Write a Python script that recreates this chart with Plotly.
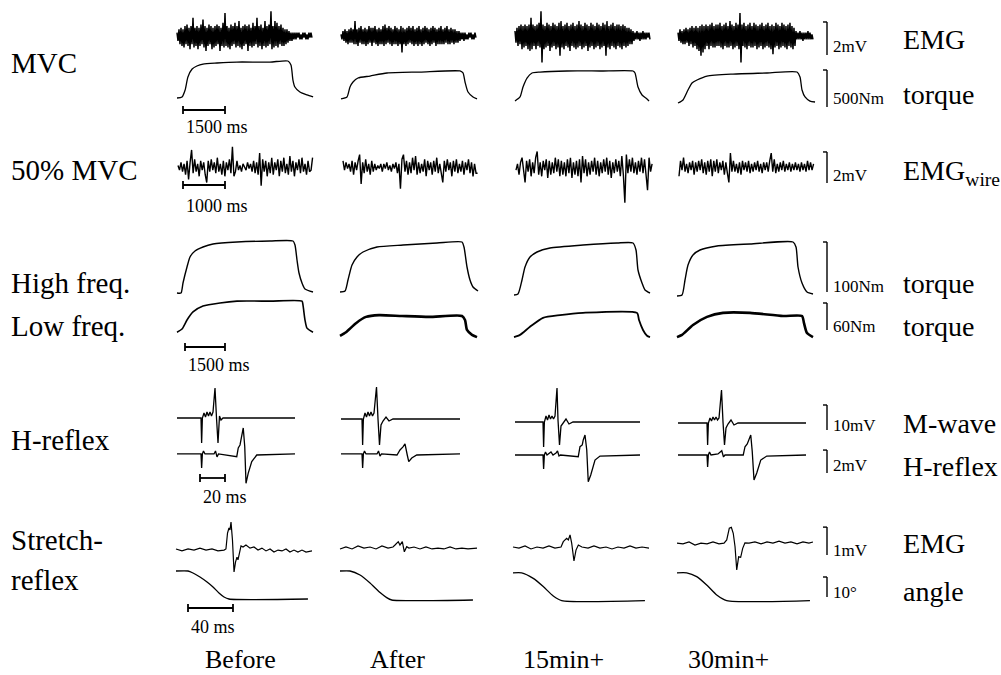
import numpy as np
import plotly.graph_objects as go

W, H = 1001, 675
FONT = "Liberation Serif, Times New Roman, serif"
COLS = ["Before", "After", "15min+", "30min+"]

# ------------------------------------------------------------------ DATA
# MVC surface EMG, units of 0.1 mV, one sample every MVC_EMG_DT ms
MVC_EMG_DT = 35.7
mvc_emg_before = [2,-3,4,-5,5,-6,4,-7,6,-5, 7,-6,5,-8,6,-5,11,-7,5,-6, 6,-8,5,-6,7,-5,10,-7,6,-9,
                  5,-6,7,-5,6,-8,5,-7,6,-6, 7,-5,6,-9,5,-6,8,-7,14,-6, 6,-7,5,-8,7,-6,6,-5,8,-7,
                  6,-6,9,-7,5,-8,6,-6,7,-5, 6,-9,7,-6,5,-7,8,-6,6,-5, 11,-7,6,-6,7,-8,5,-6,9,-7,
                  6,-6,7,-5,15,-8,6,-7,9,-6, 8,-7,6,-5,7,-6,5,-6,4,-5, 4,-4,3,-3,2,-3,2,-2,2,-2,
                  2,-1,2,-2,1,-2,2,-1,2,-2, 1,-2,2,-1,2,-1]
mvc_emg_after = [1,-2,3,-3,4,-4,3,-5,4,-4, 5,-4,4,-5,9,-5,4,-6,5,-4, 6,-5,4,-5,5,-6,4,-5,6,-4,
                 5,-6,5,-4,6,-5,4,-6,5,-5, 4,-5,6,-6,7,-5,5,-4,6,-5, 5,-6,4,-5,6,-5,5,-6,4,-5,
                 6,-10,5,-5,4,-6,5,-5,6,-4, 5,-5,6,-6,4,-5,5,-6,6,-5, 4,-6,5,-5,6,-4,5,-5,4,-6,
                 5,-5,6,-4,5,-6,4,-5,5,-5, 6,-5,4,-5,5,-4,6,-5,4,-5, 5,-4,4,-5,4,-4,3,-4,3,-3,
                 2,-2,2,-3,2,-2,1,-2,2,-1, 2,-2,1,-2,2,-1]
mvc_emg_15 = [3,-4,5,-6,6,-5,7,-8,6,-7, 7,-6,6,-8,7,-9,11,-8,7,-6, 6,-8,7,-6,8,-7,15,-16,7,-8,
              6,-7,8,-6,7,-9,6,-7,8,-6, 7,-8,6,-7,8,-12,9,-7,6,-8, 7,-6,8,-7,6,-9,7,-6,8,-7,
              6,-8,7,-7,9,-6,7,-8,6,-7, 8,-6,7,-9,6,-7,8,-6,7,-8, 6,-7,8,-6,7,-8,6,-7,8,-6,
              7,-12,9,-7,6,-8,7,-6,8,-7, 6,-8,7,-6,7,-7,6,-8,7,-6, 6,-7,5,-6,5,-5,4,-5,3,-3,
              2,-2,3,-2,2,-3,2,-2,3,-2, 2,-2,2,-1,2,-2]
mvc_emg_30 = [2,-3,4,-4,3,-5,4,-5,5,-4, 4,-6,5,-5,6,-7,5,-6,6,-8, 5,-9,6,-12,7,-10,6,-8,7,-6,
              6,-8,7,-6,8,-7,6,-7,7,-6, 7,-6,8,-7,6,-8,7,-6,8,-7, 6,-7,9,-6,7,-8,6,-7,8,-6,
              7,-8,14,-16,7,-6,8,-7,6,-8, 7,-6,8,-7,6,-7,8,-6,7,-8, 6,-7,7,-6,8,-8,6,-7,7,-6,
              8,-7,6,-8,7,-11,6,-7,8,-6, 7,-8,6,-7,8,-6,7,-7,6,-8, 7,-6,8,-7,6,-8,5,-6,3,-2,
              2,-2,3,-2,2,-3,2,-2,2,-2, 3,-2,2,-2,1,-2]

# MVC torque (ms, Nm)
mvc_t_before = [0,180,290,390,540,710,930,1430,2140,3320,3960,4070,4140,4210,4390,4640,4860]
mvc_nm_before = [27,41,135,311,419,459,486,500,513,513,527,473,270,176,108,68,41]
mvc_t_after = [0,214,321,429,607,1036,1643,2821,4250,4357,4429,4536,4714,4857]
mvc_nm_after = [14,41,176,243,297,324,365,378,392,365,243,108,41,14]
mvc_t_15 = [0,179,286,429,607,893,1857,3036,4214,4286,4393,4536,4714,4786]
mvc_nm_15 = [-14,41,176,297,365,378,392,392,392,365,176,68,14,-14]
mvc_t_30 = [0,179,357,500,679,1036,1964,3179,4250,4357,4429,4536,4714,4893]
mvc_nm_30 = [-41,0,135,230,270,324,351,365,378,311,135,41,-14,-27]

# 50% MVC intramuscular (wire) EMG, units of 0.1 mV, one sample every WIRE_DT ms
WIRE_DT = 36
wire_before = [1,-2,3,-3,2,-5,4,-8,3,11, -4,5,-3,2,-6,4,-2,3,-5,-10, 4,-3,5,-2,3,-4,6,-3,2,-5,
               4,-6,3,-2,5,-4,13,-6,-3,4, -2,1,-3,2,0,-2,3,-1,2,-3, 4,-4,3,-5,9,-12,5,-3,4,-6,
               3,-4,6,-5,3,-2,5,-6,4,-3, 6,-4,2,-5,7,-3,4,-6,3,-2, 5,-4,6,-3,2,-5,4,-3,-2,6]
wire_after = [4,-2,3,-1,2,-3,4,-5,3,-2, 4,8,-11,3,-4,5,-3,2,-5,4, -3,2,-2,1,-1,2,-3,2,-1,3,
              -2,1,-3,2,-1,3,-4,2,-14,5, 8,-3,4,-5,3,-4,6,-2,7,-5, 3,-4,2,-3,5,-6,4,-2,3,-5,
              4,-3,6,-4,2,-5,-10,4,-3,5, -2,3,-6,4,-3,5,-4,2,-3,4, -5,3,-2,5,-4,3,-6,2,-4,-4]
wire_15 = [-2,2,-5,3,6,-4,-10,4,-3,5, -6,3,-4,6,10,-5,3,-6,4,-2, 5,-7,4,-5,3,-4,6,-3,5,-6,
           4,-5,3,-6,5,-4,6,-7,3,-5, 4,-6,5,-10,7,-4,5,-6,3,-5, 4,-3,6,-5,4,-6,3,-4,5,-3,
           6,-5,4,-7,3,-4,5,-3,4,-6, 7,-5,-23,8,-4,5,-3,6,-4,3, -5,4,-3,6,-4,5,-6,-15,6,-3,2]
wire_30 = [-6,4,-2,6,-3,2,-4,3,-2,4, -5,3,-3,4,-2,5,-4,3,-5,4, -3,5,-6,4,-3,5,-4,3,-2,4,
           -5,3,-4,-10,9,-3,4,-3,2,-4, 3,-5,4,-2,3,-3,4,-4,2,-3, 3,-2,4,-3,2,-4,3,-2,3,-3,
           4,9,-3,5,-4,2,-3,3,-2,4, -3,2,-2,3,-3,2,-2,3,-2,2, -3,3,-2,2,-3,4,-2,3,-2,2]

# Electrically evoked torque, high-frequency stimulation (ms, Nm)
hf_t_before = [0,150,225,375,488,675,975,1350,2250,3488,4350,4425,4500,4575,4688,4800,5100]
hf_nm_before = [2,2,22,54,74,86,94,100,104,106,106,98,68,42,22,10,4]
hf_t_after = [0,188,300,450,638,863,1388,2363,3638,4575,4650,4763,4875,4988,5175]
hf_nm_after = [4,6,28,58,74,84,94,98,102,104,94,54,28,14,6]
hf_t_15 = [0,150,300,413,600,863,1350,2588,3863,4463,4575,4650,4800,4913,5100]
hf_nm_15 = [-2,0,28,54,74,84,92,98,102,102,88,48,22,8,2]
hf_t_30 = [0,188,300,413,600,863,1500,2738,4350,4463,4538,4688,4875,5100]
hf_nm_30 = [-4,-2,28,58,78,88,96,100,104,94,54,22,4,0]

# Low-frequency stimulation torque (ms, Nm)
lf_t_before = [0,188,375,600,975,1613,2250,3488,4688,4725,4800,4875,5100]
lf_nm_before = [4,11,31,49,62,69,73,73,73,64,31,13,4]
lf_t_after = [0,225,600,975,1463,2325,3338,4575,4688,4763,4950,5138]
lf_nm_after = [-4,4,24,38,42,40,38,40,31,9,-2,-7]
lf_t_15 = [0,225,600,1088,1725,2588,4613,4688,4838,4988,5100]
lf_nm_15 = [-7,-2,16,36,42,47,47,31,9,-4,-7]
lf_t_30 = [0,188,600,1125,1725,2738,3975,4688,4763,4875,5100]
lf_nm_30 = [-7,-2,20,38,47,47,40,40,24,2,-7]

# M-wave (ms, mV)
mw_t_before = [0,18.4,19.2,19.7,20.3,21.6,22.8,24,25.2,26.4,27.6,28.8,30.4,31.6,32.8,34,35.2,36.8,94.4]
mw_mv_before = [0.4,0.4,0.4,-9.6,0.4,2.4,0.8,2.8,1.2,2.8,1.2,2.8,12.4,0.4,-9.6,1.2,-0.4,0.4,0.4]
mw_t_after = [0,16,16.8,17.3,17.9,19.2,20.4,21.6,22.8,24,25.2,26.4,28.4,29.6,30.8,32,33.6,36,38.4,41.6,95.2]
mw_mv_after = [0,0,0,-10.4,0,2.4,0.8,2.8,1.2,2.8,1.2,2.4,12.8,0,-10.4,-2.4,-0.8,0.8,-0.8,0,0]
mw_t_15 = [0,21.6,22.4,22.9,23.5,24.8,26,27.2,28.4,29.6,30.8,32,33.6,34.4,35.6,36.8,38.4,40.8,43.2,46.4,100]
mw_mv_15 = [-1.2,-1.2,-1.2,-11.2,-1.2,1.2,-0.4,1.6,0,1.2,0,1.2,12.4,-0.4,-10.4,-2.8,-1.6,0,-2,-1.2,-1.2]
mw_t_30 = [0,22.4,23.2,23.7,24.3,25.6,26.8,28,29.2,30.4,31.6,32.8,34.8,36,37.2,38.4,40,42.4,44.8,48,102.4]
mw_mv_30 = [-1.6,-1.6,-1.6,-10.4,-1.6,0.4,-0.8,0.8,-0.4,0.8,-0.4,0.4,11.6,-1.2,-10.4,-3.6,-2,-0.4,-2.4,-1.6,-1.6]

# H-reflex (ms, mV)
hr_t_before = [0,18.4,19.2,19.7,20.3,21.2,22.4,29.6,30.8,32,33.2,47.8,49,50.4,51.2,53,54.2,55.2,57,59.8,63.8,94.4]
hr_mv_before = [0.09,0.09,0.09,-1.13,0.09,0.35,0.09,0.09,0.35,-0.17,0.09,-0.15,0.61,0.87,1.3,2.35,0.72,-2.46,-1.57,-0.58,0,0.09]
hr_t_after = [0,16,16.8,17.3,17.9,18.8,20,28.8,30,31.2,32.4,44.8,47.2,49.6,51.2,53,54.2,56.6,60.6,95.2]
hr_mv_after = [0.09,0.09,0.09,-1.13,0.09,0.35,0.09,0.09,0.35,-0.09,0.09,0,0.44,0.7,0.96,0,-0.58,-0.26,0,0.09]
hr_t_15 = [0,21.6,22.4,22.9,23.5,24.4,25.6,28.8,30.4,32.8,34,35.2,36.4,50.6,52,53.8,54.6,56,57.4,58.6,60.6,64,68,100]
hr_mv_15 = [0,0,0,-1.22,0,0.26,0,0.26,0,0.17,0.35,-0.09,0,-0.15,0.72,0.87,1.31,1.74,0.44,-2.32,-1.74,-0.44,-0.09,0]
hr_t_30 = [0,22.4,23.2,23.7,24.3,25.2,26.4,32,33.6,35,36.4,37.6,52.2,53.6,55.4,56.6,58.2,59.4,60.8,63,66.2,71,102.4]
hr_mv_30 = [0,0,0,-1.04,0,0.26,0,0.09,0.26,0.37,-0.17,0,0,0.72,0.96,1.31,1.74,0.29,-2.18,-1.57,-0.44,-0.09,0]

# Stretch-reflex EMG (ms, mV)
sr_t_before = [0,5.3,10.7,16,21.3,26.7,32,37.3,42.7,44.4,45.8,47.1,48,48.9,50.2,51.6,52.9,54.2,55.1,56.4,57.8,59.6,
               62.2,65.8,69.3,72.9,76.4,80,83.6,87.1,90.7,94.2,97.8,101.3,104.9,108.4,112,115.6,120.9]
sr_mv_before = [-0.07,-0.14,-0.07,-0.11,-0.04,-0.11,-0.07,-0.14,-0.11,-0.07,0.5,0.68,0.61,0.89,0.25,-0.89,-0.54,-0.36,
                -0.46,-0.21,0.04,0,0.07,-0.04,0,-0.11,-0.04,-0.14,-0.07,-0.18,-0.11,-0.14,-0.07,-0.18,-0.11,-0.18,-0.11,-0.18,-0.14]
sr_t_after = [0,5.3,10.7,16,21.3,26.7,32,37.3,42.7,47.1,48.9,51.8,53.3,55.4,57.2,59.3,61.3,65.8,71.1,76.4,81.8,87.1,
              92.4,97.8,103.1,108.4,113.8,121.8]
sr_mv_after = [-0.07,0,-0.07,0.04,-0.04,0,-0.07,0.04,-0.04,0,0.07,0.19,0.07,0.19,-0.17,0.01,-0.04,0,-0.07,0,-0.07,-0.04,
               -0.07,0,-0.07,-0.04,-0.07,-0.04]
sr_t_15 = [0,5.3,10.7,16,21.3,26.7,32,37.3,42.7,44.7,47.7,49.2,50.7,52.2,54.2,56,58.1,61.3,66.7,72,77.3,82.7,88,93.3,
           98.7,104,109.3,114.7,120.9]
sr_mv_15 = [0,-0.04,0.04,-0.07,0,-0.04,0.04,-0.04,0,0.19,0.31,0.25,0.43,0.13,-0.5,-0.11,0.07,0,-0.04,0.04,-0.04,0,-0.07,
            0,-0.04,0.04,-0.04,0,-0.04]
sr_t_30 = [0,5.3,10.7,16,21.3,26.7,32,37.3,41.8,44.2,46.5,48.3,50,51.6,53.1,54.8,56.6,58.4,60.4,64,69.3,74.7,80,85.3,
           90.7,96,101.3,106.7,112,117.3,120.9]
sr_mv_30 = [0.14,0.11,0.18,0.07,0.14,0.11,0.18,0.11,0.14,0.25,0.67,0.7,0.49,0.01,-0.82,-0.35,-0.37,-0.05,0.15,0.14,0.18,
            0.11,0.18,0.14,0.21,0.14,0.18,0.11,0.18,0.14,0.18]

# Ankle angle during stretch (ms, degrees)
ang_t_before = [0,10.7,15.1,21.3,27.6,32.9,38.2,42.7,47.1,117.3]
ang_deg_before = [14.5,14.5,13.5,11.5,9,6.5,3.5,1.5,0.5,0.5]
ang_t_after = [0,8.9,17.8,26.7,35.6,41.5,46,118.2]
ang_deg_after = [14.5,14.5,12.5,8.5,3.7,1.2,0,0]
ang_t_15 = [0,7.7,18,26.9,35.8,43.3,117.3]
ang_deg_15 = [13.6,13.6,10.8,6.7,2,-0.3,-0.3]
ang_t_30 = [0,8.6,17.5,26.4,35.3,44.2,118.2]
ang_deg_30 = [13.6,13.6,11.7,7.5,2.5,-0.3,-0.3]

# Calibration values
time_bars = [1500, 1000, 1500, 20, 40]          # ms, per row group
time_bar_labels = ["1500 ms", "1000 ms", "1500 ms", "20 ms", "40 ms"]
amp_bars = [2, 500, 2, 100, 60, 10, 2, 1, 10]   # per trace row (EMG rows in mV)
amp_bar_labels = ["2mV", "500Nm", "2mV", "100Nm", "60Nm", "10mV", "2mV", "1mV", "10°"]
row_names = ["EMG", "torque", "EMG<sub>wire</sub>", "torque", "torque", "M-wave", "H-reflex", "EMG", "angle"]
left_labels = ["MVC", "50% MVC", "High freq.", "Low freq.", "H-reflex", "Stretch-", "reflex"]

# ------------------------------------------------------------------ LAYOUT
GROUPS = [
    dict(x0=[177, 341, 515, 678], mpp=35.71),   # MVC
    dict(x0=[178, 343, 516, 679], mpp=23.81),   # 50% MVC
    dict(x0=[177, 340, 514, 677], mpp=37.5),    # stimulation
    dict(x0=[177, 341, 515, 678], mpp=0.8),     # H-reflex
    dict(x0=[176, 340, 513, 677], mpp=0.889),   # stretch
]
ROWS = [
    dict(g=0, zero=36, ppu=1.65, up=35, down=34, bar_scale=10, bar_bottom=-11.5),   # EMG in 0.1 mV
    dict(g=0, zero=100, ppu=0.074, up=45, down=12, bar_scale=1, bar_bottom=-94.6),
    dict(g=1, zero=167, ppu=1.55, up=30, down=40, bar_scale=10, bar_bottom=-10.3),  # 0.1 mV
    dict(g=2, zero=294, ppu=0.5, up=60, down=8, bar_scale=1, bar_bottom=4),
    dict(g=2, zero=334, ppu=0.45, up=40, down=8, bar_scale=1, bar_bottom=8.9),
    dict(g=3, zero=419, ppu=2.5, up=35, down=30, bar_scale=1, bar_bottom=-4.4),
    dict(g=3, zero=455, ppu=11.5, up=30, down=32, bar_scale=1, bar_bottom=-1.57),
    dict(g=4, zero=547, ppu=28.0, up=25, down=28, bar_scale=1, bar_bottom=-0.29),
    dict(g=4, zero=600, ppu=2.0, up=32, down=6, bar_scale=1, bar_bottom=1.5),
]
TIME_BAR_POS = [(183, 110, 127), (183, 185, 206), (185, 347, 365), (200, 478, 497), (188, 608, 627)]
AMP_BAR_X = 827
ROW_LABEL_Y = [40, 95, 172, 283, 326, 423, 466, 543, 591]
SMALL_LABEL_Y = [47, 98, 176, 287, 326, 426, 465, 550, 592]
LEFT_LABEL_Y = [63, 170, 283, 326, 440, 540, 580]
COL_LABEL_X = [240, 397, 563, 728]
COL_LABEL_Y = 659

layout = {}
for gi, g in enumerate(GROUPS):
    for c in range(4):
        n = gi * 4 + c + 1
        x0 = g["x0"][c]
        layout["xaxis" + ("" if n == 1 else str(n))] = dict(
            domain=[(x0 - 6) / W, (x0 + 146) / W], range=[-6 * g["mpp"], 146 * g["mpp"]],
            visible=False, fixedrange=True)
for ri, r in enumerate(ROWS):
    n = ri + 1
    top = max(r["zero"] - r["up"], 0)
    bot = min(r["zero"] + r["down"], H)
    layout["yaxis" + ("" if n == 1 else str(n))] = dict(
        domain=[1 - bot / H, 1 - top / H],
        range=[-(bot - r["zero"]) / r["ppu"], (r["zero"] - top) / r["ppu"]],
        visible=False, fixedrange=True)


def xref(gi, c):
    n = gi * 4 + c + 1
    return "x" if n == 1 else "x%d" % n


def yref(ri):
    return "y" if ri == 0 else "y%d" % (ri + 1)


fig = go.Figure()


def add(ri, c, t, v, width=1.2, shape="linear"):
    g = ROWS[ri]["g"]
    line = dict(color="black", width=width, shape=shape)
    if shape == "spline":
        line["smoothing"] = 0.6
    fig.add_trace(go.Scatter(x=t, y=v, mode="lines", xaxis=xref(g, c), yaxis=yref(ri),
                             line=line, hoverinfo="skip", showlegend=False, cliponaxis=False))


for c, e in enumerate([mvc_emg_before, mvc_emg_after, mvc_emg_15, mvc_emg_30]):
    add(0, c, np.arange(len(e)) * MVC_EMG_DT, e, width=1.5)
for c, (t, v) in enumerate([(mvc_t_before, mvc_nm_before), (mvc_t_after, mvc_nm_after),
                            (mvc_t_15, mvc_nm_15), (mvc_t_30, mvc_nm_30)]):
    add(1, c, t, v, width=1.3, shape="spline")
for c, e in enumerate([wire_before, wire_after, wire_15, wire_30]):
    add(2, c, np.arange(len(e)) * WIRE_DT, e, width=1.4)
for c, (t, v) in enumerate([(hf_t_before, hf_nm_before), (hf_t_after, hf_nm_after),
                            (hf_t_15, hf_nm_15), (hf_t_30, hf_nm_30)]):
    add(3, c, t, v, width=1.4, shape="spline")
for c, (t, v) in enumerate([(lf_t_before, lf_nm_before), (lf_t_after, lf_nm_after),
                            (lf_t_15, lf_nm_15), (lf_t_30, lf_nm_30)]):
    add(4, c, t, v, width=[1.6, 2.6, 1.8, 2.6][c], shape="spline")
for c, (t, v) in enumerate([(mw_t_before, mw_mv_before), (mw_t_after, mw_mv_after),
                            (mw_t_15, mw_mv_15), (mw_t_30, mw_mv_30)]):
    add(5, c, t, v, width=1.3)
for c, (t, v) in enumerate([(hr_t_before, hr_mv_before), (hr_t_after, hr_mv_after),
                            (hr_t_15, hr_mv_15), (hr_t_30, hr_mv_30)]):
    add(6, c, t, v, width=1.3)
for c, (t, v) in enumerate([(sr_t_before, sr_mv_before), (sr_t_after, sr_mv_after),
                            (sr_t_15, sr_mv_15), (sr_t_30, sr_mv_30)]):
    add(7, c, t, v, width=1.2)
for c, (t, v) in enumerate([(ang_t_before, ang_deg_before), (ang_t_after, ang_deg_after),
                            (ang_t_15, ang_deg_15), (ang_t_30, ang_deg_30)]):
    add(8, c, t, v, width=1.3, shape="spline")

shapes = []
annotations = []


def text(xpx, ypx, s, size, anchor="left"):
    annotations.append(dict(x=xpx / W, y=1 - ypx / H, xref="paper", yref="paper", text=s,
                            showarrow=False, xanchor=anchor, yanchor="middle",
                            font=dict(family=FONT, size=size, color="black")))


for gi, (bx, by, ty) in enumerate(TIME_BAR_POS):
    g = GROUPS[gi]
    t0 = (bx - g["x0"][0]) * g["mpp"]
    t1 = t0 + time_bars[gi]
    xr = xref(gi, 0)
    yp = 1 - by / H
    shapes.append(dict(type="line", xref=xr, yref="paper", x0=t0, x1=t1, y0=yp, y1=yp,
                       line=dict(color="black", width=1.8)))
    for tt in (t0, t1):
        shapes.append(dict(type="line", xref=xr, yref="paper", x0=tt, x1=tt,
                           y0=yp - 4 / H, y1=yp + 4 / H, line=dict(color="black", width=1.8)))
    text(bx + 1, ty, time_bar_labels[gi], 18)

for ri, r in enumerate(ROWS):
    b0 = r["bar_bottom"]
    b1 = b0 + amp_bars[ri] * r["bar_scale"]
    xp = AMP_BAR_X / W
    shapes.append(dict(type="line", xref="paper", yref=yref(ri), x0=xp, x1=xp, y0=b0, y1=b1,
                       line=dict(color="black", width=1.4)))
    shapes.append(dict(type="line", xref="paper", yref=yref(ri), x0=xp - 4 / W, x1=xp, y0=b1, y1=b1,
                       line=dict(color="black", width=1.4)))
    text(831, SMALL_LABEL_Y[ri], amp_bar_labels[ri], 17)
    text(901, ROW_LABEL_Y[ri], row_names[ri], 28)

for s, y in zip(left_labels, LEFT_LABEL_Y):
    text(9, y, s, 29)
for s, x in zip(COLS, COL_LABEL_X):
    text(x, COL_LABEL_Y, s, 26, anchor="center")

fig.update_layout(width=W, height=H, margin=dict(l=0, r=0, t=0, b=0),
                  paper_bgcolor="white", plot_bgcolor="rgba(0,0,0,0)",
                  shapes=shapes, annotations=annotations, showlegend=False, **layout)
fig.write_html("out.html", config={"displayModeBar": False, "staticPlot": True})

# remove the browser's default page margin so the figure starts at the window corner
with open("out.html", encoding="utf-8") as f:
    html = f.read()
html = html.replace("<body>", '<body style="margin:0;padding:0;overflow:hidden">', 1)
with open("out.html", "w", encoding="utf-8") as f:
    f.write(html)
